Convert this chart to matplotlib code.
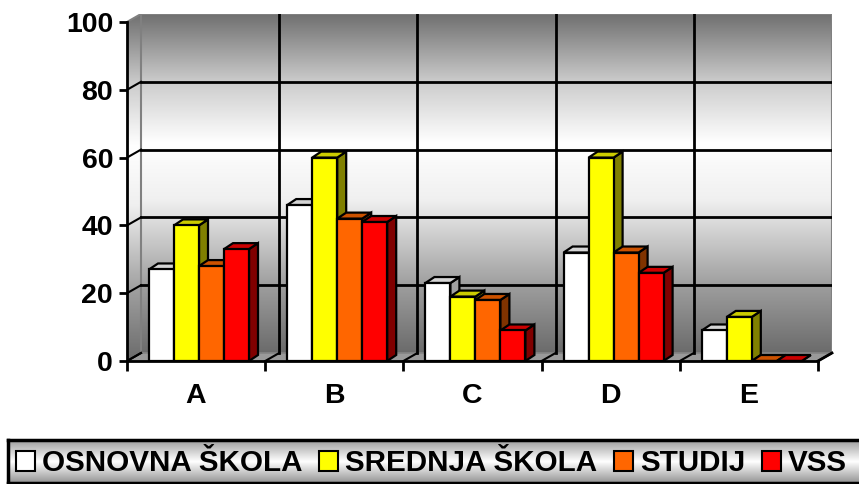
import numpy as np
import matplotlib
matplotlib.use('Agg')
import matplotlib.pyplot as plt
from matplotlib.patches import Polygon, Patch

plt.rcParams['font.family'] = ['Liberation Sans', 'DejaVu Sans']

categories = ['A', 'B', 'C', 'D', 'E']
series_names = ['OSNOVNA ŠKOLA', 'SREDNJA ŠKOLA', 'STUDIJ', 'VSS']
osnovna = [27, 46, 23, 32, 9]
srednja = [40, 60, 19, 60, 13]
studij = [28, 42, 18, 32, 0]
vss = [33, 41, 9, 26, 0]
series = [osnovna, srednja, studij, vss]
y_ticks = [0, 20, 40, 60, 80, 100]

front_colors = ['#FFFFFF', '#FFFF00', '#FF6600', '#FF0000']
top_colors = ['#D4D4D4', '#CCCC00', '#CC5200', '#CC0000']
side_colors = ['#A0A0A0', '#808000', '#803300', '#800000']

W, H = 859, 484
fig = plt.figure(figsize=(W / 100, H / 100), dpi=100)

# pixel geometry of the front axes frame
x0px, x1px = 127, 818
y0px, y100px = 361, 22
dxpx, dypx = 14, 8
xpu = (x1px - x0px) / 5.0
ypu = (y0px - y100px) / 100.0
DX = dxpx / xpu
DY = dypx / ypu
ax = fig.add_axes([x0px / W, (H - y0px) / H,
                   (x1px + dxpx - x0px) / W, (y0px - (y100px - dypx)) / H])
ax.set_xlim(0, 5 + DX)
ax.set_ylim(0, 100 + DY)
for s in ax.spines.values():
    s.set_visible(False)

ncat = len(categories)

# wall gradient
t = np.linspace(0, 1, 300)
g = np.interp(t, [0, 0.2, 0.45, 0.62, 0.8, 1.0], [0.42, 0.62, 0.94, 1.0, 0.80, 0.44])
img = np.dstack([g, g, g]).reshape(300, 1, 3)
ax.imshow(img, origin='lower', extent=[DX, ncat + DX, DY, 100 + DY], aspect='auto',
          interpolation='bilinear', zorder=0.5)
lw_img = ax.imshow(img, origin='lower', extent=[0, DX, 0, 100 + DY], aspect='auto',
                   interpolation='bilinear', zorder=0.5)
lwall = Polygon([(0, 0), (DX, DY), (DX, 100 + DY), (0, 100)], closed=True,
                facecolor='none', edgecolor='none', transform=ax.transData)
ax.add_patch(lwall)
lw_img.set_clip_path(lwall)
# back wall border
ax.plot([DX, ncat + DX, ncat + DX, DX, DX], [DY, DY, 100 + DY, 100 + DY, DY],
        color='#808080', lw=1.5, zorder=0.8)
ax.plot([0, DX], [100, 100 + DY], color='#808080', lw=1.5, zorder=0.8)

# floor
floor = Polygon([(0, 0), (ncat, 0), (ncat + DX, DY), (DX, DY)], closed=True,
                facecolor='#9a9a9a', edgecolor='#808080', lw=1, zorder=0.9)
ax.add_patch(floor)

# grid lines
for v in y_ticks[1:-1]:
    ax.plot([DX, ncat + DX], [v + DY, v + DY], color='black', lw=2, zorder=1)
for v in y_ticks[:-1]:
    ax.plot([0, DX], [v, v + DY], color='black', lw=1.5, zorder=1)
for k in range(1, ncat):
    ax.plot([k + DX, k + DX], [DY, 100 + DY], color='black', lw=2, zorder=1)
for k in range(0, ncat + 1):
    ax.plot([k, k + DX], [0, DY], color='black', lw=1.5, zorder=1.1)

# bars
bw = 25 / xpu
off = 22 / xpu
bdx = 9 / xpu
bdy = 6 / ypu
z = 3
for c in range(ncat):
    for i, vals in enumerate(series):
        v = vals[c]
        x = c + off + i * bw
        side = Polygon([(x + bw, 0), (x + bw + bdx, bdy), (x + bw + bdx, v + bdy), (x + bw, v)],
                       closed=True, facecolor=side_colors[i], edgecolor='black', lw=1.6, zorder=z)
        top = Polygon([(x, v), (x + bw, v), (x + bw + bdx, v + bdy), (x + bdx, v + bdy)],
                      closed=True, facecolor=top_colors[i], edgecolor='black', lw=1.6, zorder=z)
        ax.add_patch(side)
        ax.add_patch(top)
        ax.bar([x], [v], width=bw, align='edge', color=front_colors[i], edgecolor='black',
               lw=1.6, zorder=z + 0.5)
        z += 1

# axes lines
ax.plot([0, 0], [0, 100], color='black', lw=2, zorder=50, clip_on=False)
ax.plot([0, ncat], [0, 0], color='black', lw=2, zorder=50, clip_on=False)
ax.plot([ncat, ncat + DX], [0, DY], color='black', lw=2, zorder=50, clip_on=False)

ax.set_yticks(y_ticks)
ax.set_yticklabels([str(v) for v in y_ticks], fontsize=20.5, fontweight='bold')
ax.tick_params(axis='y', length=6, width=2, pad=4, direction='out')
ax.set_xticks(list(range(ncat + 1)))
ax.set_xticklabels([''] * (ncat + 1))
ax.tick_params(axis='x', which='major', length=7, width=2, direction='out')
ax.set_xticks([c + 0.5 for c in range(ncat)], minor=True)
ax.set_xticklabels(categories, minor=True, fontsize=20.5, fontweight='bold')
ax.tick_params(axis='x', which='minor', length=0, pad=16)

# legend background
lax = fig.add_axes([8 / W, (H - 483) / H, (W + 10 - 8) / W, 43 / H])
tg = np.linspace(0, 1, 100)
gg = np.interp(tg, [0, 0.5, 1.0], [0.58, 1.0, 0.62])
limg = np.dstack([gg, gg, gg]).reshape(100, 1, 3)
lax.imshow(limg, origin='lower', extent=[0, 1, 0, 1], aspect='auto', interpolation='bilinear')
lax.set_xticks([])
lax.set_yticks([])
for s in lax.spines.values():
    s.set_linewidth(2.5)
    s.set_color('black')

handles = [Patch(facecolor=front_colors[i], edgecolor='black', lw=1.5) for i in range(4)]
fig.legend(handles, series_names, loc='center left', bbox_to_anchor=(16 / W, (H - 463) / H),
           ncol=4, frameon=False, prop={'size': 21.3, 'weight': 'bold'},
           handlelength=0.64, handleheight=0.66, handletextpad=0.25,
           columnspacing=0.55, borderpad=0, borderaxespad=0)

fig.savefig('out.png', dpi=100)
